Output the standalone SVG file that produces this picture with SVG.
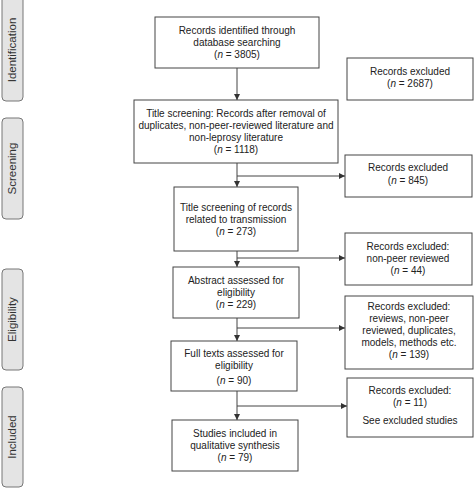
<svg xmlns="http://www.w3.org/2000/svg" width="474" height="488" viewBox="0 0 474 488">
<defs>
<marker id="ah" viewBox="0 0 10 10" refX="10" refY="5" markerWidth="6" markerHeight="6" markerUnits="userSpaceOnUse" orient="auto">
<path d="M0,0 L10,5 L0,10 z" fill="#333"/>
</marker>
</defs>
<style>
.box{fill:#fff;stroke:#444;stroke-width:1}
.tab{fill:#e4e4e4;stroke:#777;stroke-width:1}
.t{font-family:"Liberation Sans",Arial,sans-serif;font-size:10px;fill:#222;text-anchor:middle}
.tt{font-family:"Liberation Sans",Arial,sans-serif;font-size:11.5px;fill:#333;text-anchor:middle}
.ln{stroke:#444;stroke-width:1;fill:none}
</style>
<rect width="474" height="488" fill="#fff"/>
<g id="tab-identification"><rect class="tab" x="2" y="-4" width="21" height="105" rx="4"/><text class="tt" transform="translate(16,50) rotate(-90)">Identification</text></g>
<g id="tab-screening"><rect class="tab" x="2" y="118" width="21" height="101" rx="4"/><text class="tt" transform="translate(16,168.5) rotate(-90)">Screening</text></g>
<g id="tab-eligibility"><rect class="tab" x="2" y="269" width="21" height="101" rx="4"/><text class="tt" transform="translate(16,319.5) rotate(-90)">Eligibility</text></g>
<g id="tab-included"><rect class="tab" x="2" y="387" width="21" height="100" rx="4"/><text class="tt" transform="translate(16,437) rotate(-90)">Included</text></g>

<g id="connectors">
<line class="ln" x1="237" y1="68" x2="237" y2="100" marker-end="url(#ah)"/>
<line class="ln" x1="237" y1="163" x2="237" y2="187" marker-end="url(#ah)"/>
<line class="ln" x1="237" y1="176" x2="345" y2="176" marker-end="url(#ah)"/>
<line class="ln" x1="237" y1="251" x2="237" y2="267" marker-end="url(#ah)"/>
<line class="ln" x1="237" y1="258" x2="345" y2="258" marker-end="url(#ah)"/>
<line class="ln" x1="237" y1="318" x2="237" y2="341" marker-end="url(#ah)"/>
<line class="ln" x1="237" y1="328" x2="345" y2="328" marker-end="url(#ah)"/>
<line class="ln" x1="237" y1="391" x2="237" y2="420" marker-end="url(#ah)"/>
<line class="ln" x1="237" y1="406" x2="347" y2="406" marker-end="url(#ah)"/>
</g>

<g id="n-identified"><rect class="box" x="155" y="17" width="164" height="51"/>
<text class="t" x="237" y="34">Records identified through</text>
<text class="t" x="237" y="46">database searching</text>
<text class="t" x="237" y="58">(<tspan font-style="italic">n</tspan> = 3805)</text></g>

<g id="n-excl1"><rect class="box" x="347" y="58" width="126" height="42"/>
<text class="t" x="410" y="75">Records excluded</text>
<text class="t" x="410" y="87">(<tspan font-style="italic">n</tspan> = 2687)</text></g>

<g id="n-title"><rect class="box" x="134" y="100" width="204" height="63"/>
<text class="t" x="236" y="117">Title screening: Records after removal of</text>
<text class="t" x="236" y="129">duplicates, non-peer-reviewed literature and</text>
<text class="t" x="236" y="141">non-leprosy  literature</text>
<text class="t" x="236" y="153">(<tspan font-style="italic">n</tspan> = 1118)</text></g>

<g id="n-excl2"><rect class="box" x="345" y="155" width="127" height="42"/>
<text class="t" x="408" y="171">Records excluded</text>
<text class="t" x="408" y="184">(<tspan font-style="italic">n</tspan> = 845)</text></g>

<g id="n-transmission"><rect class="box" x="174" y="187" width="124" height="64"/>
<text class="t" x="236" y="211">Title screening of records</text>
<text class="t" x="236" y="223">related to transmission</text>
<text class="t" x="236" y="235">(<tspan font-style="italic">n</tspan> = 273)</text></g>

<g id="n-excl3"><rect class="box" x="345" y="233" width="127" height="52"/>
<text class="t" x="408" y="250">Records excluded:</text>
<text class="t" x="408" y="262">non-peer reviewed</text>
<text class="t" x="408" y="274">(<tspan font-style="italic">n</tspan> = 44)</text></g>

<g id="n-abstract"><rect class="box" x="173" y="267" width="126" height="51"/>
<text class="t" x="236" y="284">Abstract assessed for</text>
<text class="t" x="236" y="296">eligibility</text>
<text class="t" x="236" y="308">(<tspan font-style="italic">n</tspan> = 229)</text></g>

<g id="n-excl4"><rect class="box" x="345" y="296" width="128" height="73"/>
<text class="t" x="409" y="310">Records excluded:</text>
<text class="t" x="409" y="322">reviews, non-peer</text>
<text class="t" x="409" y="334">reviewed, duplicates,</text>
<text class="t" x="409" y="346">models, methods etc.</text>
<text class="t" x="409" y="358">(<tspan font-style="italic">n</tspan> = 139)</text></g>

<g id="n-fulltext"><rect class="box" x="171" y="341" width="126" height="50"/>
<text class="t" x="234" y="357">Full texts assessed for</text>
<text class="t" x="234" y="369">eligibility</text>
<text class="t" x="234" y="384">(<tspan font-style="italic">n</tspan> = 90)</text></g>

<g id="n-excl5"><rect class="box" x="347" y="378" width="126" height="59"/>
<text class="t" x="410" y="394">Records excluded:</text>
<text class="t" x="410" y="406">(<tspan font-style="italic">n</tspan> = 11)</text>
<text class="t" x="410" y="424">See excluded studies</text></g>

<g id="n-included"><rect class="box" x="172" y="420" width="126" height="51"/>
<text class="t" x="235" y="437">Studies included in</text>
<text class="t" x="235" y="449">qualitative synthesis</text>
<text class="t" x="235" y="461">(<tspan font-style="italic">n</tspan> = 79)</text></g>
</svg>
